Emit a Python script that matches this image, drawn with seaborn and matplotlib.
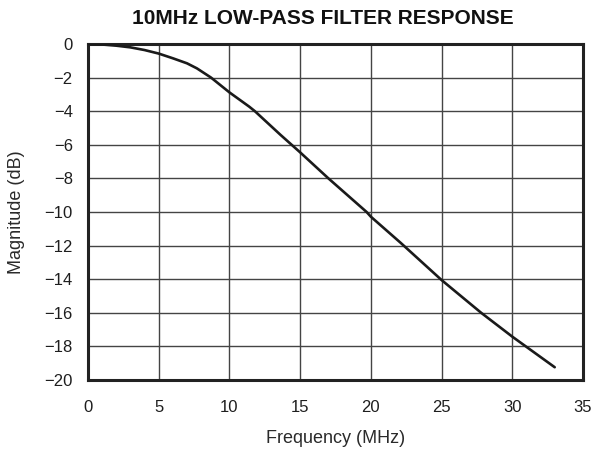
import matplotlib
matplotlib.use("Agg")
import matplotlib.pyplot as plt
import seaborn as sns
import pandas as pd

freq_mhz = [0, 1, 2, 3, 4, 5, 6, 7, 7.7, 8.7, 10, 11.4, 11.8, 13.6, 14.4, 15, 17, 19.7, 20, 22.1, 25, 27.8, 30, 33]
magnitude_db = [0, -0.03, -0.1, -0.2, -0.36, -0.57, -0.85, -1.15, -1.45, -2.0, -2.88, -3.73, -4.0, -5.4, -6.0,
                -6.45, -8.0, -10.0, -10.28, -11.83, -14.05, -16.0, -17.42, -19.24]
x_ticks = [0, 5, 10, 15, 20, 25, 30, 35]
y_ticks = [0, -2, -4, -6, -8, -10, -12, -14, -16, -18, -20]

sns.set_theme(style="white")
plt.rcParams['font.family'] = ['Liberation Sans', 'DejaVu Sans']

df = pd.DataFrame({"f": freq_mhz, "m": magnitude_db})

fig = plt.figure(figsize=(5.98, 4.51), dpi=100)
ax = fig.add_axes([88/598, 1-380/451, (583-88)/598, (380-44)/451])
sns.lineplot(data=df, x="f", y="m", ax=ax, color="#1a1a1a", linewidth=1.9, sort=False, zorder=3)

ax.set_xlim(0, 35)
ax.set_ylim(-20, 0)
ax.set_xticks(x_ticks)
ax.set_yticks(y_ticks)
ax.grid(True, color="#444444", linewidth=1.0)
ax.tick_params(length=0, labelsize=12, colors="#1e1e1e")
ax.tick_params(axis="x", pad=14.5)
ax.tick_params(axis="y", pad=11)
for s in ax.spines.values():
    s.set_linewidth(2.2)
    s.set_color("#222222")
    s.set_visible(True)

ax.set_xlabel("Frequency (MHz)", fontsize=13, color="#2a2a2a", labelpad=11)
ax.set_ylabel("Magnitude (dB)", fontsize=13, color="#2a2a2a", labelpad=14)
fig.text(322.5/598, 1-18/451, "10MHz LOW-PASS FILTER RESPONSE", fontsize=15, fontweight="bold",
         color="#111111", ha="center", va="center")

fig.savefig("out.png", dpi=100)
